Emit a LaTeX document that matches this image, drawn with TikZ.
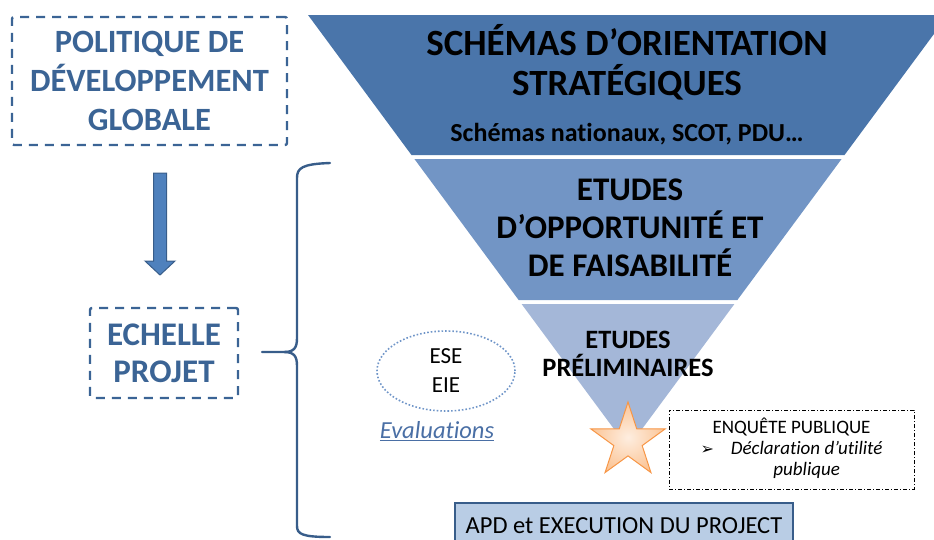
\documentclass[tikz,border=0pt]{standalone}
\usepackage{fontspec}
\setmainfont{Carlito}[Ligatures=NoCommon]
\newfontfamily\dejavu{DejaVu Sans}
\usepackage{tikz}
\usetikzlibrary{positioning,arrows.meta,calc,shapes.geometric}
\usepackage{xcolor}

\definecolor{bandA}{HTML}{4A75AA}
\definecolor{bandB}{HTML}{7295C5}
\definecolor{bandC}{HTML}{A4B7D8}
\definecolor{boxblue}{HTML}{3B6495}
\definecolor{arrfill}{HTML}{4F81BD}
\definecolor{arrline}{HTML}{385D8A}
\definecolor{dotblue}{HTML}{6F95C8}
\definecolor{evalblue}{HTML}{4A6FA5}
\definecolor{starfill}{HTML}{FBC597}
\definecolor{starline}{HTML}{F79646}
\definecolor{apdfill}{HTML}{B9CDE5}

\tikzset{
	dashbox/.style={draw=boxblue, line width=2.4pt, dash pattern=on 9pt off 7pt,
		rounded corners=2pt, text=boxblue, align=center,
		font=\bfseries\fontsize{32.5}{39}\selectfont},
	bandtxt/.style={align=center, font=\bfseries\fontsize{37}{40}\selectfont},
}

\begin{document}
\begin{tikzpicture}[x=1pt,y=-1pt]
		
		\useasboundingbox (0,0) rectangle (934,539);
		
		% funnel
		\foreach \ya/\yb/\col in
		{
			15/155/bandA,
			159/300/bandB,
			304/448/bandC}
		{
			\fill[\col]
			({628-0.739*(448-\ya)},\ya)
			--
			({628+0.739*(448-\ya)},\ya)
			--
			({628+0.739*(448-\yb)},\yb)
			--
			({628-0.739*(448-\yb)},\yb)
			-- cycle;
		}
		
		\node[bandtxt] (soa) at (627,62)
		{SCHÉMAS D’ORIENTATION\\STRATÉGIQUES};
		\node[font=\bfseries\fontsize{26}{28}\selectfont] (sub) at (627,134)
		{Schémas nationaux, SCOT, PDU…};
		\node[bandtxt, font=\bfseries\fontsize{33}{38}\selectfont] (etu) at (630,228)
		{ETUDES\\D’OPPORTUNITÉ ET\\DE FAISABILITÉ};
		\node[align=center, font=\bfseries\fontsize{26.5}{28}\selectfont] (pre) at (628,354)
		{ETUDES\\PRÉLIMINAIRES};
		
		% left side
		\node[dashbox, minimum width=275, minimum height=128] (pol) at (149.5,81)
		{POLITIQUE DE\\DÉVELOPPEMENT\\GLOBALE};
		\node[dashbox, font=\bfseries\fontsize{33}{37}\selectfont,
		minimum width=148, minimum height=90] (ech) at (164,353)
		{ECHELLE\\PROJET};
		
		\coordinate (atop) at (160,173);
		\coordinate (abot) at (160,275);
		\filldraw[fill=arrfill, draw=arrline, line width=1pt]
		($(atop)+(-6.5,0)$) -- ($(atop)+(6.5,0)$)
		-- ($(abot)+(6.5,-14)$) -- ($(abot)+(15,-14)$)
		-- (abot)
		-- ($(abot)+(-15,-14)$) -- ($(abot)+(-6.5,-14)$)
		-- cycle;
		
		% brace
		\coordinate (tip) at (262,352);
		\draw[arrline, line width=2.4pt, line cap=round, line join=round]
		(tip) -- (284,352)
		.. controls (294,352) and (297,348) .. (297,338)
		-- (297,178)
		.. controls (297,168) and (302,164) .. (330,163);
		\draw[arrline, line width=2.4pt, line cap=round, line join=round]
		(284,352)
		.. controls (294,352) and (297,356) .. (297,366)
		-- (297,526)
		.. controls (297,534) and (302,537) .. (330,537);
		
		% evaluations
		\node[ellipse, draw=dotblue, dotted, line width=1.6pt,
		minimum width=138, minimum height=80, align=center,
		font=\fontsize{23}{29}\selectfont] (eval) at (446,371)
		{ESE\\EIE};
		\node[text=evalblue, font=\itshape\fontsize{24.5}{26}\selectfont] (evl) at (437,431)
		{\underline{Evaluations}};
		
		% enquete
		\node[star, star points=5, star point ratio=2.618, minimum size=78, inner sep=0,
		shading=radial, inner color=starfill!30, outer color=starfill,
		draw=starline, line width=1pt] (etoile) at (628,441) {};
		
		\node[draw, line width=0.8pt, dash pattern=on 4pt off 2pt on 1pt off 2pt,
		minimum width=245, minimum height=79, inner sep=0] (enq) at (791.5,449.5)
		{\fontsize{19}{21}\selectfont
			\begin{tabular}{@{}l@{\hspace{17pt}}c@{}}
				\multicolumn{2}{c}{ENQUÊTE PUBLIQUE}\\
				{\dejavu\fontsize{16}{21}\selectfont ➢} & \itshape Déclaration d’utilité\\
				& \itshape publique
		\end{tabular}};
		
		% APD
		\node[draw=arrline, fill=apdfill, line width=2pt,
		minimum width=338, minimum height=46,
		font=\fontsize{24.5}{26}\selectfont] (apd) at (624,526)
		{APD et EXECUTION DU PROJECT};
		
	\end{tikzpicture}
\end{document}
